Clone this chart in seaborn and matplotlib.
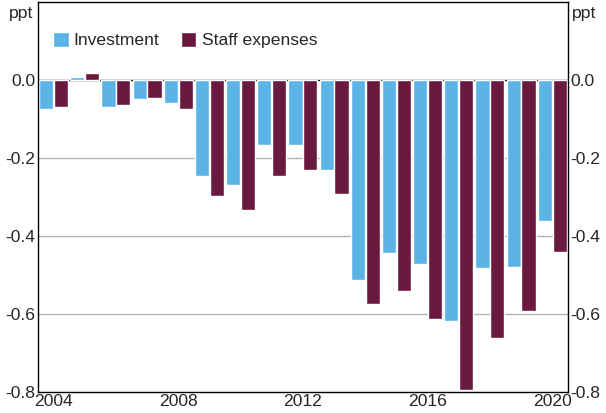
import numpy as np
import pandas as pd
import matplotlib
matplotlib.use("Agg")
import matplotlib.pyplot as plt
import seaborn as sns

# values (ppt)
years = list(range(2004, 2021))
investment = [-0.074, 0.007, -0.069, -0.048, -0.059, -0.245, -0.269, -0.168, -0.166,
              -0.232, -0.513, -0.444, -0.472, -0.617, -0.482, -0.480, -0.362]
staff_expenses = [-0.069, 0.018, -0.064, -0.046, -0.074, -0.298, -0.332, -0.245, -0.232,
                  -0.293, -0.574, -0.541, -0.612, -0.793, -0.661, -0.592, -0.441]
series_names = ["Investment", "Staff expenses"]
colours = ["#5BB4E5", "#6B1A3F"]
y_ticks = [0.0, -0.2, -0.4, -0.6, -0.8]
x_label_years = [2004, 2008, 2012, 2016, 2020]

FS = 12.6

df = pd.DataFrame({
    "year": [str(y) for y in years] * 2,
    "value": investment + staff_expenses,
    "series": [series_names[0]] * len(years) + [series_names[1]] * len(years),
})

sns.set_style("white")
plt.rcParams["font.family"] = ["Liberation Sans", "DejaVu Sans"]
plt.rcParams["axes.unicode_minus"] = False

fig = plt.figure(figsize=(6.06, 4.13), dpi=100)
ax = fig.add_axes([0.0627, 0.050, 0.8743, 0.946])

# gridlines and zero line
for yv in y_ticks[1:-1]:
    ax.axhline(yv, color="#b3b3b3", lw=1, zorder=0)
ax.axhline(0, color="black", lw=1, zorder=1)

sns.barplot(data=df, x="year", y="value", hue="series", palette=colours,
            width=0.95, gap=0.04, saturation=1, ax=ax, zorder=2, legend=True)

ax.set_xlim(-0.5, len(years) - 0.5)
ax.set_ylim(-0.8, 0.2)
ax.set_xlabel("")
ax.set_ylabel("")

# x axis: labels at year centres, ticks at year boundaries
ax.set_xticks([years.index(y) for y in x_label_years])
ax.set_xticklabels([str(y) for y in x_label_years], fontsize=FS)
ax.set_xticks(np.arange(0.5, len(years) - 0.5, 1), minor=True)
ax.tick_params(axis="x", which="major", length=0, pad=1)
ax.tick_params(axis="x", which="minor", direction="in", length=6, width=1, color="black")

ax.set_yticks(y_ticks)
ax.set_yticklabels([f"{v:.1f}" for v in y_ticks], fontsize=FS)
ax.tick_params(axis="y", length=0, pad=2, labelleft=True, labelright=True)

for side in ["left", "right", "top", "bottom"]:
    ax.spines[side].set_visible(True)
    ax.spines[side].set_color("black")
    ax.spines[side].set_linewidth(1)

fig.text(0.055, 0.968, "ppt", ha="right", va="center", fontsize=FS)
fig.text(0.943, 0.968, "ppt", ha="left", va="center", fontsize=FS)

handles, labels = ax.get_legend_handles_labels()
ax.legend(handles, labels, loc="center left", bbox_to_anchor=(0.028, 0.901),
          ncol=2, frameon=False, fontsize=FS, borderpad=0, borderaxespad=0,
          handlelength=0.9, handleheight=0.9, handletextpad=0.3, columnspacing=1.2)

fig.savefig("out.png", dpi=100)
